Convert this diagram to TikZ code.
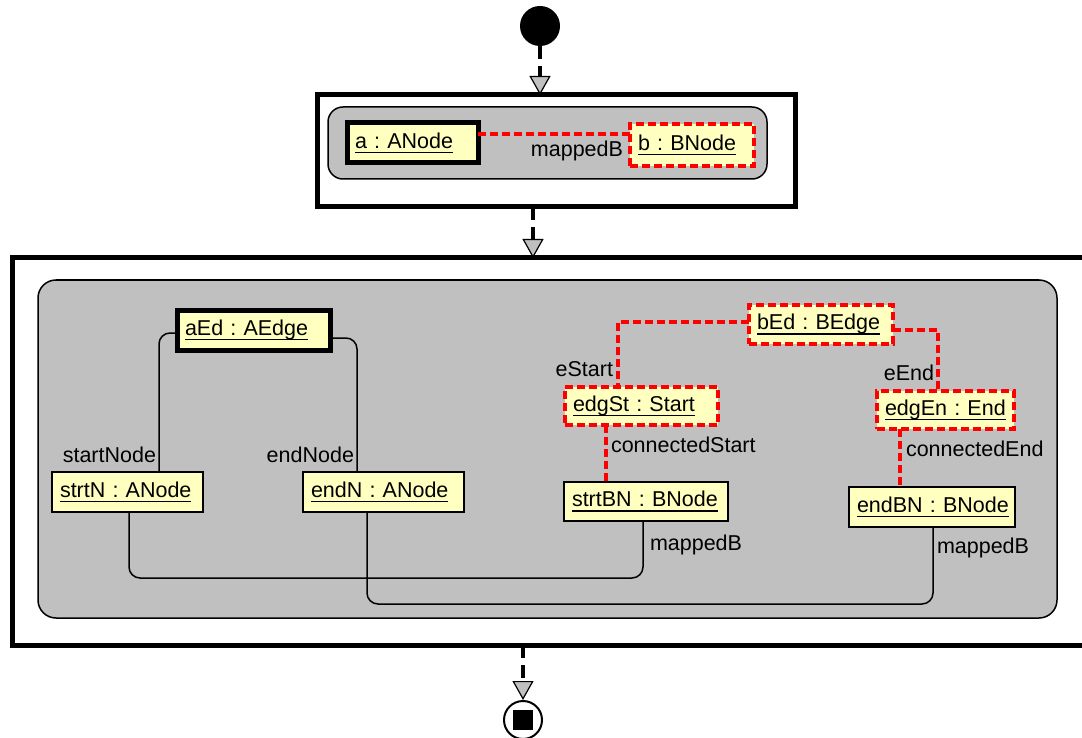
\documentclass[tikz,border=0pt]{standalone}
\usepackage{fontspec}
\setmainfont{Liberation Sans}
\usetikzlibrary{arrows.meta,calc}
\definecolor{objfill}{RGB}{255,255,192}
\definecolor{areagray}{RGB}{192,192,192}
\frenchspacing
% object name, underlined at a fixed depth below the baseline
\newcommand\objname[1]{\setbox0\hbox{#1}\leavevmode\rlap{\rule[-5pt]{\wd0}{1.6pt}}\box0}

\begin{document}
\begin{tikzpicture}[x=1pt,y=-1pt,
  font=\fontsize{21.5}{25}\selectfont,
  frame/.style={draw, line width=5pt, anchor=north west, inner sep=0pt, outer sep=0pt},
  region/.style={draw, line width=1.5pt, fill=areagray, rounded corners=#1,
    anchor=north west, inner sep=0pt, outer sep=0pt},
  objbase/.style={fill=objfill, anchor=north west, inner xsep=8pt, inner ysep=0pt,
    outer sep=0pt, align=left},
  plainobj/.style={objbase, draw, line width=1.5pt},
  boldobj/.style={objbase, draw, line width=5pt},
  newobj/.style={objbase, draw=red, line width=3.5pt, dash pattern=on 8pt off 4pt},
  lbl/.style={inner sep=0pt, outer sep=0pt},
  conn/.style={draw, line width=1.5pt, rounded corners=11pt},
  redconn/.style={draw=red, line width=3.5pt, dash pattern=on 8pt off 4pt},
  flow/.style={draw, line width=4pt, dash pattern=on 13pt off 7pt,
    -{Triangle[length=19pt, width=21pt, fill=areagray, line width=1.2pt]}},
]
\useasboundingbox (0,0) rectangle (1082,738);

% initial and final states
\node[circle, fill=black, minimum size=40pt, inner sep=0pt] (start) at (540,26) {};
\node[circle, draw, line width=2pt, fill=white, minimum size=38pt, inner sep=0pt] (stop) at (523,720) {};
\node[fill=black, minimum size=20pt, inner sep=0pt] (stopsq) at (stop.center) {};

% activity frames and their story patterns
\node[frame, minimum width=478pt, minimum height=112pt] (frame1) at (317,95) {};
\node[region=15pt, minimum width=439pt, minimum height=72pt] (area1) at (328,107) {};
\node[frame, minimum width=1083pt, minimum height=387pt] (frame2) at (12,258) {};
\node[region=18pt, minimum width=1019pt, minimum height=338pt] (area2) at (38,280) {};

% first pattern
\node[boldobj, text width=115pt, minimum height=40pt] (a) at (347,123) {\objname{a : ANode}};
\node[newobj, text width=108pt, minimum height=42pt] (b) at (630,124) {\objname{b : BNode}};
\draw[redconn] ([yshift=9pt]a.east) -- ([yshift=11pt]b.west);
\node[lbl, anchor=base east] (lmapAB) at (623,157) {mappedB};

% second pattern: objects
\node[boldobj, text width=137pt, minimum height=40pt] (aEd) at (177,310) {\objname{aEd : AEdge}};
\node[plainobj, text width=135pt, minimum height=40pt] (strtN) at (52,472) {\objname{strtN : ANode}};
\node[plainobj, text width=145pt, minimum height=40pt] (endN) at (303,472) {\objname{endN : ANode}};
\node[newobj, text width=128pt, minimum height=39pt] (bEd) at (749,305) {\objname{bEd : BEdge}};
\node[newobj, text width=137pt, minimum height=38pt] (edgSt) at (565,387) {\objname{edgSt : Start}};
\node[newobj, text width=121pt, minimum height=38pt] (edgEn) at (877,391) {\objname{edgEn : End}};
\node[plainobj, text width=148pt, minimum height=39pt] (strtBN) at (564,482) {\objname{strtBN : BNode}};
\node[plainobj, text width=150pt, minimum height=40pt] (endBN) at (849,487) {\objname{endBN : BNode}};

% second pattern: links
\draw[conn] ([yshift=-3pt]aEd.west) -| ($(strtN.north west)+(107,0)$);
\draw[conn] ([yshift=-8pt]aEd.east) -| ($(endN.north west)+(54,0)$);
\draw[conn] ($(strtN.south west)+(77,0)$) -- ++(0,66) -| ($(strtBN.south west)+(79,0)$);
\draw[conn] ($(endN.south west)+(64,0)$) -- ++(0,92) -| ($(endBN.south west)+(84,0)$);
\draw[redconn] ([yshift=2.5pt]bEd.west) -| ($(edgSt.north west)+(53,0)$);
\draw[redconn] ([yshift=-5.5pt]bEd.east) -| ($(edgEn.north west)+(61,0)$);
\draw[redconn] ($(edgSt.south west)+(41,0)$) -- ($(strtBN.north west)+(42,0)$);
\draw[redconn] ($(edgEn.south west)+(23,0)$) -- ($(endBN.north west)+(51,0)$);

% link labels
\node[lbl, anchor=base east] (lstart) at (156,462) {startNode};
\node[lbl, anchor=base east] (lend) at (354,462) {endNode};
\node[lbl, anchor=base east] (lestart) at (613,376) {eStart};
\node[lbl, anchor=base east] (leend) at (934,380) {eEnd};
\node[lbl, anchor=base west] (lcstart) at (611,452) {connectedStart};
\node[lbl, anchor=base west] (lcend) at (906,456) {connectedEnd};
\node[lbl, anchor=base west] (lmap1) at (650,550) {mappedB};
\node[lbl, anchor=base west] (lmap2) at (937,553) {mappedB};

% control flow
\coordinate (f1out) at ($(frame1.south west)+(216,0)$);
\coordinate (f2out) at (stop.north |- frame2.south);
\draw[flow] (start.south) -- (start.south |- frame1.north);
\draw[flow] (f1out) -- (f1out |- frame2.north);
\draw[flow] (f2out) -- (stop.north);
\end{tikzpicture}
\end{document}
